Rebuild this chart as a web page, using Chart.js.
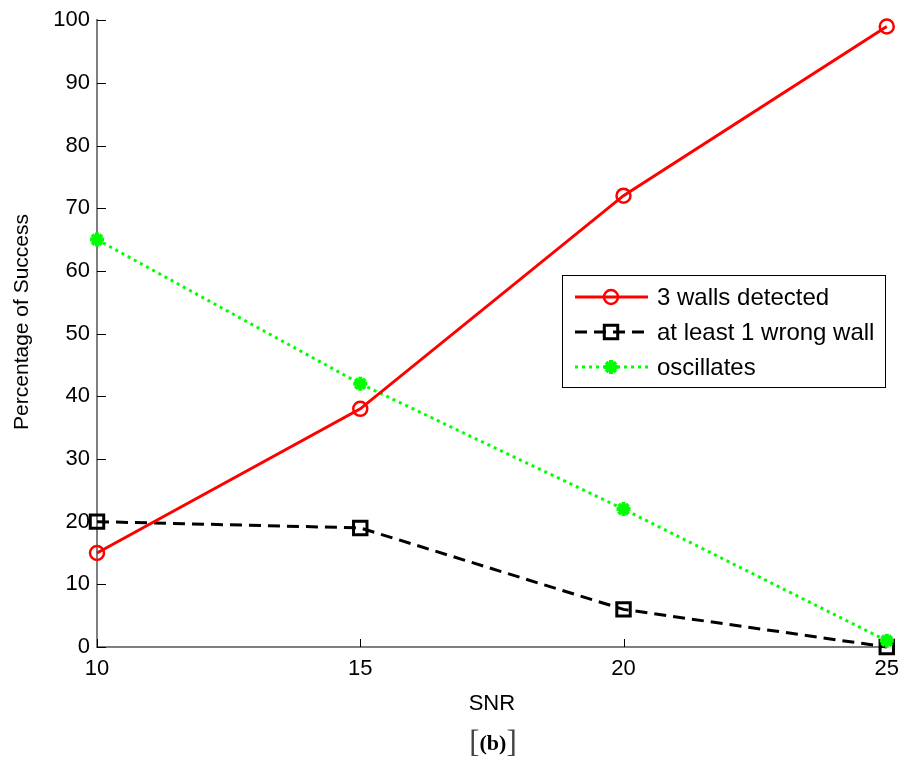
<!DOCTYPE html>
<html>
<head>
<meta charset="utf-8">
<script src="https://cdn.jsdelivr.net/npm/chart.js@4/dist/chart.umd.min.js"></script>
<style>
  html, body { margin: 0; padding: 0; background: #fff; }
  #wrap { position: relative; width: 908px; height: 762px; }
  #caption {
    position: absolute; left: 0; width: 986px; top: 726px;
    text-align: center; font-family: 'Liberation Serif', serif; font-size: 31px; line-height: 31px;
    color: #444;
  }
  #caption b { font-size: 22px; color: #000; vertical-align: 2px; }
</style>
</head>
<body>
<div id="wrap">
  <canvas id="chart" width="908" height="762"></canvas>
  <div id="caption">[<b>(b)</b>]</div>
</div>
<script>
// dados
const snr = [10, 15, 20, 25];
const wallsDetected = [15, 38, 72, 99];
const wrongWall = [20, 19, 6, 0];
const oscillates = [65, 42, 22, 1];
const seriesNames = ['3 walls detected', 'at least 1 wrong wall', 'oscillates'];

Chart.defaults.font.family = "'Liberation Sans', Arial, sans-serif";
Chart.defaults.font.size = 22;
Chart.defaults.color = '#000';

function toPoints(ys) {
    return snr.map((x, i) => ({ x: x, y: ys[i] }));
}

// ticks para dentro, estilo MATLAB
const innerTicks = {
    id: 'innerTicks',
    beforeDatasetsDraw(chart) {
        const { ctx, chartArea, scales } = chart;
        ctx.save();
        ctx.strokeStyle = '#000';
        ctx.lineWidth = 1;
        scales.y.ticks.forEach(t => {
            const py = Math.round(scales.y.getPixelForValue(t.value)) + 0.5;
            ctx.beginPath();
            ctx.moveTo(chartArea.left, py);
            ctx.lineTo(chartArea.left + 9, py);
            ctx.stroke();
        });
        scales.x.ticks.forEach(t => {
            const px = Math.round(scales.x.getPixelForValue(t.value)) + 0.5;
            ctx.beginPath();
            ctx.moveTo(px, chartArea.bottom);
            ctx.lineTo(px, chartArea.bottom - 8);
            ctx.stroke();
        });
        ctx.restore();
    }
};

// legenda customizada dentro do gráfico
const boxLegend = {
    id: 'boxLegend',
    afterDraw(chart) {
        const { ctx } = chart;
        const bx = 562, by = 275, bw = 323, bh = 112;
        ctx.save();
        ctx.fillStyle = '#fff';
        ctx.fillRect(bx, by, bw, bh);
        ctx.strokeStyle = '#000';
        ctx.lineWidth = 1;
        ctx.strokeRect(bx + 0.5, by + 0.5, bw, bh);
        chart.data.datasets.forEach((ds, i) => {
            const y = by + 22 + i * 35;
            ctx.strokeStyle = ds.borderColor;
            ctx.lineWidth = ds.borderWidth;
            ctx.setLineDash(ds.borderDash || []);
            ctx.beginPath();
            ctx.moveTo(bx + 13, y);
            ctx.lineTo(bx + 86, y);
            ctx.stroke();
            ctx.setLineDash([]);
            ctx.lineWidth = ds.pointBorderWidth;
            ctx.fillStyle = ds.pointBackgroundColor;
            Chart.helpers.drawPoint(ctx, {
                pointStyle: ds.pointStyle,
                radius: ds.pointRadius,
                rotation: 0,
                borderWidth: ds.pointBorderWidth
            }, bx + 49, y);
            ctx.fillStyle = '#000';
            ctx.font = "24px 'Liberation Sans', Arial, sans-serif";
            ctx.textBaseline = 'middle';
            ctx.fillText(ds.label, bx + 95, y + 1);
        });
        ctx.restore();
    }
};

new Chart(document.getElementById('chart').getContext('2d'), {
    type: 'line',
    data: {
        datasets: [{
            label: seriesNames[0],
            data: toPoints(wallsDetected),
            borderColor: '#ff0000',
            borderWidth: 3,
            pointStyle: 'circle',
            pointRadius: 7,
            pointBorderWidth: 2.5,
            pointBorderColor: '#ff0000',
            pointBackgroundColor: 'rgba(0,0,0,0)',
            order: 0,
            clip: false
        }, {
            label: seriesNames[1],
            data: toPoints(wrongWall),
            borderColor: '#000000',
            borderWidth: 3,
            borderDash: [12, 7],
            pointStyle: 'rect',
            pointRadius: 9.5,
            pointBorderWidth: 3,
            pointBorderColor: '#000000',
            pointBackgroundColor: 'rgba(0,0,0,0)',
            order: 2,
            clip: false
        }, {
            label: seriesNames[2],
            data: toPoints(oscillates),
            borderColor: '#00ff00',
            borderWidth: 3,
            borderDash: [3, 4],
            pointStyle: 'star',
            pointRadius: 7,
            pointBorderWidth: 4,
            pointBorderColor: '#00ff00',
            pointBackgroundColor: '#00ff00',
            order: 1,
            clip: false
        }]
    },
    options: {
        responsive: false,
        animation: false,
        layout: { padding: { top: 20, right: 13, left: 0, bottom: 0 } },
        plugins: { legend: { display: false }, tooltip: { enabled: false } },
        elements: { line: { tension: 0 } },
        scales: {
            x: {
                type: 'linear',
                min: 10,
                max: 25,
                ticks: { stepSize: 5, padding: 9, maxRotation: 0 },
                grid: { display: false, drawTicks: false },
                border: { display: true, color: '#7f7f7f', width: 2 },
                title: { display: true, text: 'SNR', padding: { top: 0, bottom: 45 } },
                afterFit(scale) { scale.height = 115; }
            },
            y: {
                min: 0,
                max: 100,
                ticks: { stepSize: 10, padding: 7 },
                grid: { display: false, drawTicks: false },
                border: { display: true, color: '#7f7f7f', width: 2 },
                // espaços iniciais sobem o texto uns 12px, como no original
                title: { display: true, text: '    Percentage of Success', font: { size: 21 }, padding: { top: 10, bottom: 0 } },
                afterFit(scale) { scale.width = 97; }
            }
        }
    },
    plugins: [innerTicks, boxLegend]
});
</script>
</body>
</html>
